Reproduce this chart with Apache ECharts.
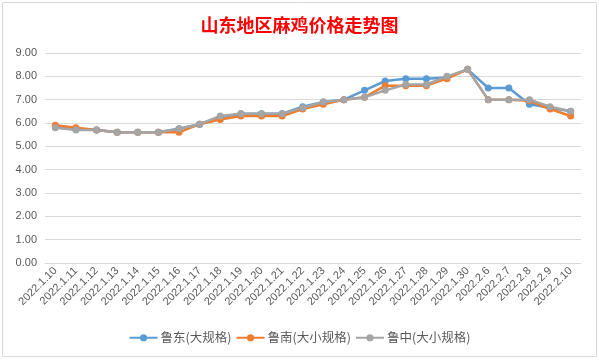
<!DOCTYPE html>
<html><head><meta charset="utf-8">
<script src="https://cdn.jsdelivr.net/npm/echarts@6/dist/echarts.min.js"></script>
<style>html,body{margin:0;padding:0;background:#fff}#c{width:599px;height:360px}</style>
</head><body><div id="c"></div>
<script>
const categories = ['2022.1.10','2022.1.11','2022.1.12','2022.1.13','2022.1.14','2022.1.15','2022.1.16','2022.1.17','2022.1.18','2022.1.19','2022.1.20','2022.1.21','2022.1.22','2022.1.23','2022.1.24','2022.1.25','2022.1.26','2022.1.27','2022.1.28','2022.1.29','2022.1.30','2022.2.6','2022.2.7','2022.2.8','2022.2.9','2022.2.10'];
const ludong  = [5.85,5.75,5.7,5.6,5.6,5.6,5.75,5.95,6.25,6.4,6.4,6.4,6.7,6.9,7.0,7.4,7.8,7.9,7.9,7.95,8.3,7.5,7.5,6.8,6.65,6.5];
const lunan   = [5.9,5.8,5.7,5.6,5.6,5.6,5.6,5.95,6.15,6.3,6.3,6.3,6.6,6.8,7.0,7.1,7.6,7.6,7.6,7.9,8.3,7.0,7.0,6.95,6.6,6.3];
const luzhong = [5.8,5.7,5.7,5.6,5.6,5.6,5.75,5.95,6.3,6.4,6.4,6.4,6.65,6.9,7.0,7.1,7.4,7.65,7.65,8.0,8.3,7.0,7.0,7.0,6.7,6.5];
const seriesNames = ['鲁东(大规格)','鲁南(大小规格)','鲁中(大小规格)'];
const colors = ['#5B9BD5','#ED7D31','#A5A5A5'];
const chart = echarts.init(document.getElementById('c'));
const mk = (name, data, color) => ({
  name, type:'line', data, symbol:'circle', symbolSize:7,
  lineStyle:{width:2.5,color}, itemStyle:{color}, animation:false
});
chart.setOption({
  animation:false,
  title:{text:'山东地区麻鸡价格走势图', left:'center', top:11,
    textStyle:{color:'#FF0000', fontSize:18, fontWeight:'bold', fontFamily:'Noto Sans CJK SC'}},
  graphic:[{type:'rect', shape:{x:2.5,y:2.5,width:594,height:354}, style:{fill:'none',stroke:'#D9D9D9',lineWidth:1}, silent:true}],
  grid:{left:45,right:18,top:53,bottom:97},
  legend:{bottom:11,left:'center',itemWidth:28,itemHeight:9,itemGap:4,
    textStyle:{color:'#595959',fontSize:12.5,fontFamily:'Noto Sans CJK SC',padding:[0,0,0,-2]},
    data:seriesNames},
  xAxis:{type:'category',data:categories,boundaryGap:true,
    axisLine:{lineStyle:{color:'#D9D9D9'}},axisTick:{show:false},
    axisLabel:{rotate:45,interval:0,color:'#595959',fontSize:11,fontFamily:'Liberation Sans',margin:6}},
  yAxis:{type:'value',min:0,max:9,interval:1,
    axisLine:{show:false},axisTick:{show:false},
    splitLine:{lineStyle:{color:'#D9D9D9'}},
    axisLabel:{formatter:v=>v.toFixed(2),color:'#595959',fontSize:11,fontFamily:'Liberation Sans',margin:8}},
  series:[mk(seriesNames[0],ludong,colors[0]),mk(seriesNames[1],lunan,colors[1]),mk(seriesNames[2],luzhong,colors[2])]
});
</script></body></html>
